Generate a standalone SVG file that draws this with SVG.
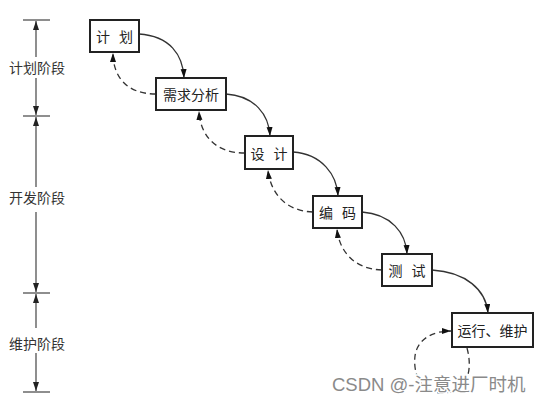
<svg xmlns="http://www.w3.org/2000/svg" width="545" height="402" viewBox="0 0 545 402">
<style>
.box{fill:#fff;stroke:#222;stroke-width:2}
.t{font-family:"Noto Sans CJK SC","Liberation Serif",serif;font-size:14px;fill:#222;text-anchor:middle;dominant-baseline:central}
.sp{letter-spacing:3px}
.lab{font-family:"Noto Sans CJK SC","Liberation Serif",serif;font-size:14px;fill:#333;text-anchor:middle;dominant-baseline:central}
.solid{fill:none;stroke:#333;stroke-width:1.3;marker-end:url(#ah)}
.dash{fill:none;stroke:#333;stroke-width:1.3;stroke-dasharray:6 4;marker-end:url(#ah)}
.ax{stroke:#444;stroke-width:1.2;fill:none}
.wm{font-family:"Liberation Sans","Noto Sans CJK SC",sans-serif;font-size:18.5px;fill:#8a8a8a;stroke:#fff;stroke-width:3;paint-order:stroke}
</style>
<defs>
<marker id="ah" markerUnits="userSpaceOnUse" markerWidth="10" markerHeight="8" refX="9" refY="3" orient="auto">
<path d="M0,0 L9,3 L0,6 Z" fill="#111"/>
</marker>
<marker id="ax" markerUnits="userSpaceOnUse" markerWidth="10" markerHeight="8" refX="9" refY="3" orient="auto">
<path d="M0,0 L9,3 L0,6 Z" fill="#222"/>
</marker>
</defs>
<rect width="545" height="402" fill="#fff"/>
<g id="axis">
<line class="ax" x1="23" y1="20" x2="50" y2="20"/>
<line class="ax" x1="23" y1="116" x2="50" y2="116"/>
<line class="ax" x1="23" y1="293" x2="50" y2="293"/>
<line class="ax" x1="23" y1="392" x2="50" y2="392"/>
<line class="ax" x1="36" y1="57" x2="36" y2="21" marker-end="url(#ax)"/>
<line class="ax" x1="36" y1="78" x2="36" y2="115" marker-end="url(#ax)"/>
<line class="ax" x1="36" y1="187" x2="36" y2="117" marker-end="url(#ax)"/>
<line class="ax" x1="36" y1="212" x2="36" y2="292" marker-end="url(#ax)"/>
<line class="ax" x1="36" y1="328" x2="36" y2="294" marker-end="url(#ax)"/>
<line class="ax" x1="36" y1="353" x2="36" y2="391" marker-end="url(#ax)"/>
<text class="lab" x="37" y="67">计划阶段</text>
<text class="lab" x="37" y="197">开发阶段</text>
<text class="lab" x="37" y="343">维护阶段</text>
</g>
<g id="connectors">
<path class="solid" d="M139,34 C170,36 183,55 184,78"/>
<path class="solid" d="M226,94 C255,96 269,115 270,136"/>
<path class="solid" d="M293,152 C322,154 337,175 338,196"/>
<path class="solid" d="M362,212 C391,214 406,233 407,254"/>
<path class="solid" d="M432,270 C466,272 486,290 488,313"/>
<path class="dash" d="M156,94 C125,94 113,75 113,53"/>
<path class="dash" d="M245,153 C213,153 200,133 199,111"/>
<path class="dash" d="M313,212 C283,211 270,190 268,170"/>
<path class="dash" d="M382,270 C352,269 339,249 337,229"/>
<path class="dash" d="M467,348 C473,370 468,393 442,393 C420,393 413,373 415,356 C417,341 430,331 451,331"/>
</g>
<g id="n1"><rect class="box" x="90" y="20" width="49" height="32"/><text class="t sp" x="116" y="36">计 划</text></g>
<g id="n2"><rect class="box" x="156" y="78" width="70" height="32"/><text class="t" x="191" y="94">需求分析</text></g>
<g id="n3"><rect class="box" x="245" y="136" width="48" height="33"/><text class="t sp" x="270.5" y="152.5">设 计</text></g>
<g id="n4"><rect class="box" x="313" y="196" width="49" height="32"/><text class="t sp" x="339" y="212">编 码</text></g>
<g id="n5"><rect class="box" x="382" y="254" width="50" height="32"/><text class="t sp" x="408.5" y="270">测 试</text></g>
<g id="n6"><rect class="box" x="452" y="313" width="81" height="34"/><text class="t" x="492.5" y="330">运行、维护</text></g>
<text class="wm" x="332" y="391">CSDN @-注意进厂时机</text>
</svg>
